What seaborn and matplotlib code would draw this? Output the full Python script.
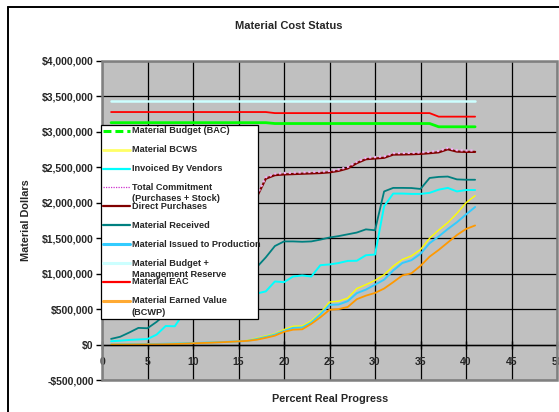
import matplotlib
matplotlib.use("Agg")
import matplotlib.pyplot as plt
import numpy as np
import seaborn as sns
from matplotlib.lines import Line2D
from matplotlib.patches import Rectangle
from matplotlib.ticker import FuncFormatter, MultipleLocator

# %% Data (dollar values in thousands)
progress = [1, 2, 3, 4, 5, 6, 7, 8, 9, 10, 11, 12, 13, 14, 15, 16, 17, 18, 19, 20,
            21, 22, 23, 24, 25, 26, 27, 28, 29, 30, 31, 32, 33, 34, 35, 36, 37, 38, 39, 40, 41]

budget_bac_k = [3130, 3130, 3130, 3130, 3130, 3130, 3130, 3130, 3130, 3130, 3130, 3130, 3130, 3130,
                3130, 3130, 3130, 3130, 3118, 3118, 3118, 3118, 3118, 3118, 3118, 3118, 3118, 3118,
                3118, 3118, 3118, 3118, 3118, 3118, 3118, 3118, 3072, 3072, 3072, 3072, 3072]
bcws_k = [3, 4, 5, 6, 8, 10, 12, 15, 18, 22, 26, 30, 34, 40, 46, 58, 90, 122, 152, 212, 258,
          262, 335, 445, 600, 612, 655, 790, 845, 905, 985, 1105, 1200, 1250, 1340, 1500, 1615,
          1720, 1850, 2000, 2100]
invoiced_k = [47, 55, 65, 72, 78, 140, 262, 258, 450, 490, 520, 560, 600, 630, 660, 690, 720, 750,
              890, 880, 960, 975, 960, 1120, 1130, 1150, 1180, 1182, 1260, 1270, 1950, 2130, 2130,
              2125, 2125, 2140, 2185, 2210, 2160, 2180, 2180]
commitment_k = [1920, 1940, 1960, 1980, 2000, 2020, 2030, 2040, 2050, 2060, 2070, 2080, 2090, 2100,
                2110, 2115, 2100, 2360, 2410, 2420, 2425, 2430, 2435, 2440, 2450, 2470, 2505, 2580,
                2635, 2645, 2655, 2700, 2702, 2705, 2710, 2720, 2732, 2775, 2742, 2738, 2738]
direct_k = [1900, 1920, 1940, 1960, 1980, 2000, 2010, 2020, 2030, 2040, 2050, 2060, 2070, 2080,
            2090, 2095, 2080, 2340, 2390, 2400, 2405, 2410, 2415, 2420, 2430, 2450, 2485, 2560,
            2615, 2625, 2635, 2680, 2682, 2685, 2690, 2700, 2712, 2755, 2722, 2718, 2718]
received_k = [80, 110, 170, 235, 230, 320, 430, 520, 600, 680, 750, 820, 880, 940, 990, 1040, 1090,
              1230, 1390, 1455, 1455, 1450, 1455, 1480, 1510, 1530, 1555, 1580, 1625, 1612, 2160,
              2210, 2210, 2208, 2195, 2350, 2365, 2370, 2330, 2325, 2325]
issued_k = [2, 3, 4, 5, 6, 8, 12, 15, 18, 22, 26, 30, 34, 40, 45, 52, 78, 108, 140, 192, 236, 240,
            312, 425, 560, 565, 612, 725, 775, 845, 915, 1045, 1150, 1190, 1280, 1430, 1525, 1630,
            1725, 1835, 1940]
budget_mr_k = [3440, 3440, 3440, 3440, 3440, 3440, 3440, 3440, 3440, 3440, 3440, 3440, 3440, 3440,
               3440, 3440, 3440, 3440, 3440, 3440, 3440, 3440, 3440, 3440, 3440, 3440, 3440, 3440,
               3440, 3440, 3440, 3440, 3440, 3440, 3440, 3440, 3440, 3440, 3440, 3440, 3440]
eac_k = [3280, 3280, 3280, 3280, 3280, 3280, 3280, 3280, 3280, 3280, 3280, 3280, 3280, 3280, 3280,
         3280, 3280, 3280, 3265, 3265, 3265, 3265, 3265, 3265, 3265, 3265, 3265, 3265, 3265, 3265,
         3265, 3265, 3265, 3265, 3265, 3265, 3215, 3215, 3215, 3215, 3215]
bcwp_k = [0, 0, 0, 1, 2, 3, 5, 8, 12, 18, 22, 26, 32, 38, 45, 52, 68, 95, 125, 180, 210, 215, 292,
          385, 490, 500, 530, 640, 690, 728, 790, 880, 975, 1005, 1110, 1240, 1335, 1440, 1545,
          1630, 1680]

# %% Styling per series: (legend label, values, colour, line width, line style)
series = [
    ("Material Budget (BAC)", budget_bac_k, "#00ff00", 2.0, "-"),
    ("Material BCWS", bcws_k, "#ffff00", 1.0, "-"),
    ("Invoiced By Vendors", invoiced_k, "#00ffff", 1.4, "-"),
    ("Direct Purchases", direct_k, "#800000", 1.6, "-"),
    ("Total Commitment\n(Purchases + Stock)", commitment_k, "#f0b0f0", 1.6, (0, (1, 1.2))),
    ("Material Received", received_k, "#008080", 1.3, "-"),
    ("Material Issued to Production", issued_k, "#33ccff", 1.4, "-"),
    ("Material Budget +\nManagement Reserve", budget_mr_k, "#ccffff", 1.8, "-"),
    ("Material EAC", eac_k, "#ff0000", 1.3, "-"),
    ("Material Earned Value\n(BCWP)", bcwp_k, "#ff9900", 1.3, "-"),
]

legend_entries = [
    ("Material Budget (BAC)", "#00ff00", 2.2, (0, (2.6, 1.3))),
    ("Material BCWS", "#ffff66", 2.0, "-"),
    ("Invoiced By Vendors", "#00ffff", 1.6, "-"),
    ("Total Commitment\n(Purchases + Stock)", "#cc33cc", 0.9, (0, (1, 1))),
    ("Direct Purchases", "#800000", 1.6, "-"),
    ("Material Received", "#008080", 1.6, "-"),
    ("Material Issued to Production", "#33ccff", 2.2, "-"),
    ("Material Budget +\nManagement Reserve", "#ccffff", 2.2, "-"),
    ("Material EAC", "#ff0000", 1.6, "-"),
    ("Material Earned Value\n(BCWP)", "#ffaa33", 2.2, "-"),
]

# %% Figure
sns.set_theme(style="white")
plt.rcParams["font.family"] = ["Liberation Sans", "DejaVu Sans"]
plt.rcParams["font.weight"] = "bold"

W, H = 559, 412
fig = plt.figure(figsize=(W / 100, H / 100), dpi=100)
fig.patch.set_facecolor("white")


def fx(px):
    return px / W


def fy(py):
    return 1 - py / H


ax = fig.add_axes([fx(102), fy(380), fx(557) - fx(102), fy(61) - fy(380)])
ax.set_facecolor("#c0c0c0")

for label, values, color, lw, style in series:
    sns.lineplot(x=progress, y=np.array(values) * 1000, color=color, linewidth=lw,
                 linestyle=style, ax=ax, legend=False)

ax.set_xlim(0, 50)
ax.set_ylim(-500000, 4000000)
ax.xaxis.set_major_locator(MultipleLocator(5))
ax.yaxis.set_major_locator(MultipleLocator(500000))
ax.yaxis.set_major_formatter(FuncFormatter(
    lambda v, pos: f"-${abs(v):,.0f}" if v < 0 else f"${v:,.0f}"))
ax.grid(True, color="black", linewidth=0.9)
ax.set_axisbelow(True)
ax.set_xlabel("")
ax.set_ylabel("")

for side in ["left", "top", "right"]:
    ax.spines[side].set_visible(False)
ax.spines["bottom"].set_position(("data", 0))
ax.spines["bottom"].set_color("black")
ax.spines["bottom"].set_linewidth(1.0)
ax.add_patch(Rectangle((0, 0), 1, 1, transform=ax.transAxes, fill=False,
                       edgecolor="#808080", linewidth=1.8, zorder=3, clip_on=False))

ax.tick_params(axis="y", direction="out", length=4, width=1, color="black",
               labelsize=7.5, pad=2, left=True)
ax.tick_params(axis="x", direction="inout", length=6, width=1, color="black",
               labelsize=7.5, pad=6, bottom=True)
for t in ax.get_xticklabels() + ax.get_yticklabels():
    t.set_fontweight("bold")

# %% Titles and axis labels
fig.text(fx(289), fy(26), "Material Cost Status", ha="center", va="center",
         fontsize=8, fontweight="bold")
fig.text(fx(330), fy(399), "Percent Real Progress", ha="center", va="center",
         fontsize=7.8, fontweight="bold")
fig.text(fx(26), fy(220), "Material Dollars", ha="center", va="center", rotation=90,
         fontsize=7.8, fontweight="bold")

# %% Outer chart frame (left and top edges visible)
fig.add_artist(Line2D([fx(8), fx(8)], [fy(7), fy(413)], color="black", linewidth=1.4,
                      transform=fig.transFigure))
fig.add_artist(Line2D([fx(8), fx(560)], [fy(7), fy(7)], color="black", linewidth=1.4,
                      transform=fig.transFigure))

# %% Legend (fixed slot heights, like the spreadsheet legend)
leg_left, leg_top, leg_right, leg_bottom = 100.5, 125.5, 258, 318.5
fig.add_artist(Rectangle((fx(leg_left), fy(leg_bottom)), fx(leg_right) - fx(leg_left),
                         fy(leg_top) - fy(leg_bottom), transform=fig.transFigure,
                         facecolor="white", edgecolor="black", linewidth=0.9, zorder=5))
slot = 18.9
first = 130.7
for i, (label, color, lw, style) in enumerate(legend_entries):
    yc = first + slot * i
    fig.add_artist(Line2D([fx(103), fx(130)], [fy(yc), fy(yc)], color=color, linewidth=lw,
                          linestyle=style, transform=fig.transFigure, zorder=6))
    for j, line in enumerate(label.split("\n")):
        fig.text(fx(132), fy(yc + 11.6 * j), line, ha="left", va="center",
                 fontsize=6.6, fontweight="bold", zorder=7)

fig.savefig("out.png", dpi=100)
